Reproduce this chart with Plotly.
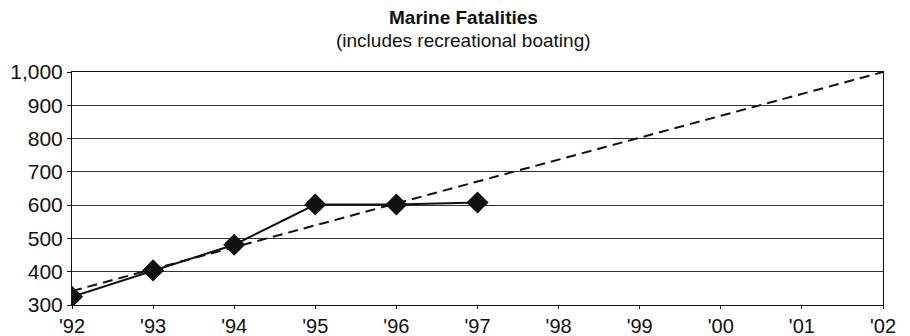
import plotly.graph_objects as go

# Marine fatalities by year (includes recreational boating)
years = [1992, 1993, 1994, 1995, 1996, 1997]
fatalities = [325, 404, 481, 602, 602, 608]

# Straight-line trend projected out to 2002
trend_years = [1992, 2002]
trend_values = [342, 1000]

tick_years = list(range(1992, 2003))
tick_labels = ["'92", "'93", "'94", "'95", "'96", "'97", "'98", "'99", "'00", "'01", "'02"]
y_ticks = [300, 400, 500, 600, 700, 800, 900, 1000]
y_labels = ["300", "400", "500", "600", "700", "800", "900", "1,000"]

chart_title = "Marine Fatalities"
chart_subtitle = "(includes recreational boating)"

FONT = "Liberation Sans, Arial, Helvetica, sans-serif"

fig = go.Figure()
fig.add_trace(go.Scatter(
    x=trend_years, y=trend_values, mode="lines",
    line=dict(color="#111111", width=2, dash="10px,6px"),
    hoverinfo="skip", showlegend=False,
))
fig.add_trace(go.Scatter(
    x=years, y=fatalities, mode="lines+markers",
    line=dict(color="#111111", width=2),
    marker=dict(symbol="diamond", size=17, color="#111111"),
    showlegend=False,
))

fig.update_layout(
    width=910, height=336,
    margin=dict(l=72, r=27, t=72, b=31),
    paper_bgcolor="white", plot_bgcolor="white",
    font=dict(family=FONT, color="#111111", size=20),
    annotations=[
        dict(text="<b>" + chart_title + "</b>", xref="paper", yref="paper",
             x=(463 - 72) / 811, y=1 + (72 - 18) / 233, xanchor="center", yanchor="middle",
             showarrow=False, font=dict(family=FONT, size=19, color="#111111")),
        dict(text=chart_subtitle, xref="paper", yref="paper",
             x=(463 - 72) / 811, y=1 + (72 - 41) / 233, xanchor="center", yanchor="middle",
             showarrow=False, font=dict(family=FONT, size=19, color="#111111")),
    ],
)

fig.update_xaxes(
    range=[1992, 2002], tickvals=tick_years, ticktext=tick_labels,
    showgrid=False, zeroline=False, automargin=False,
    showline=True, linecolor="#111111", linewidth=1, mirror=True,
    ticks="outside", ticklen=3, tickcolor="#111111",
    tickfont=dict(size=20),
)
fig.update_yaxes(
    range=[300, 1000], tickvals=y_ticks, ticktext=y_labels,
    showgrid=True, gridcolor="#333333", gridwidth=1, zeroline=False, automargin=False,
    showline=True, linecolor="#111111", linewidth=1, mirror=True,
    ticks="outside", ticklen=4, tickcolor="#111111",
    tickfont=dict(size=21),
)

fig.write_html("out.html")
